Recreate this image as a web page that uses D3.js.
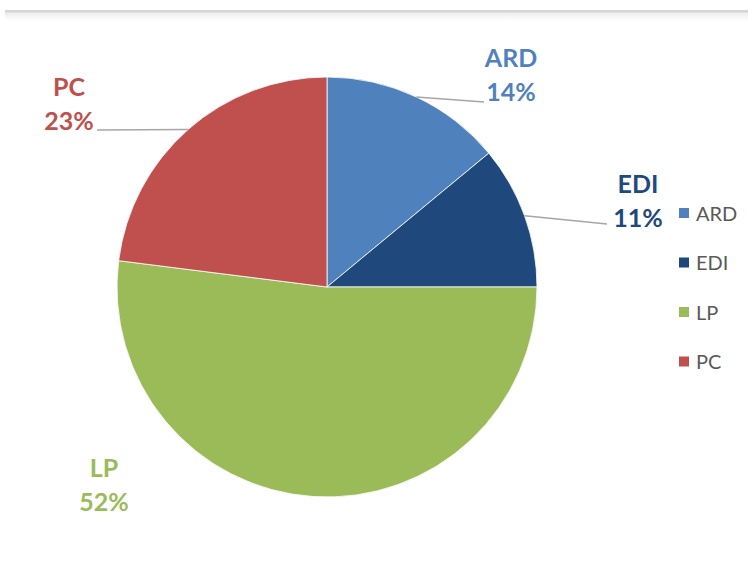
<!DOCTYPE html>
<html>
<head>
<meta charset="utf-8">
<script src="https://cdn.jsdelivr.net/npm/d3@7"></script>
<style>
  html, body { margin: 0; padding: 0; background: #ffffff; }
  svg { display: block; }
</style>
</head>
<body>
<svg id="chart" width="748" height="561"></svg>
<script>
// Share of each unit, in percent
const categories = ["ARD", "EDI", "LP", "PC"];
const values = [14, 11, 52, 23];
const colors = ["#4f81bd", "#1f497d", "#9bbb59", "#c0504d"];

const width = 748, height = 561;
const cx = 327, cy = 287, radius = 210;

const svg = d3.select("#chart");

// thin rule with soft shading along the top edge
const defs = svg.append("defs");
const grad = defs.append("linearGradient").attr("id", "topShade")
  .attr("x1", 0).attr("x2", 0).attr("y1", 0).attr("y2", 1);
grad.append("stop").attr("offset", 0).attr("stop-color", "#ececec");
grad.append("stop").attr("offset", 1).attr("stop-color", "#ffffff");
svg.append("rect").attr("x", 5).attr("y", 12).attr("width", width - 5).attr("height", 9)
  .attr("fill", "url(#topShade)");
svg.append("rect").attr("x", 5).attr("y", 10).attr("width", width - 5).attr("height", 2.5)
  .attr("fill", "#d6d6d6");

const color = d3.scaleOrdinal().domain(categories).range(colors);

const pie = d3.pie().sort(null).value(d => d.value);
const data = categories.map((c, i) => ({ name: c, value: values[i] }));
const arcs = pie(data);

const arc = d3.arc().innerRadius(0).outerRadius(radius);

const g = svg.append("g").attr("transform", `translate(${cx},${cy})`);

g.selectAll("path.slice")
  .data(arcs)
  .enter().append("path")
  .attr("class", "slice")
  .attr("d", arc)
  .attr("fill", d => color(d.data.name))
  .attr("stroke", "#ffffff")
  .attr("stroke-width", 0.8);

// data labels: position of the label block and the end of the leader line
const labelPos = {
  ARD: { x: 511, y: 67, lineEnd: [484, 102] },
  EDI: { x: 638, y: 193, lineEnd: [607, 224] },
  LP:  { x: 104, y: 477, lineEnd: null },
  PC:  { x: 69,  y: 96,  lineEnd: [97, 130] }
};

const edge = d3.arc().innerRadius(radius).outerRadius(radius);

arcs.forEach(d => {
  const p = labelPos[d.data.name];
  if (p.lineEnd) {
    const [ex, ey] = edge.centroid(d);
    svg.append("polyline")
      .attr("points", `${cx + ex},${cy + ey} ${p.lineEnd[0]},${p.lineEnd[1]}`)
      .attr("fill", "none")
      .attr("stroke", "#a6a6a6")
      .attr("stroke-width", 1.5);
  }
  const t = svg.append("text")
    .attr("x", p.x).attr("y", p.y)
    .attr("text-anchor", "middle")
    .attr("font-family", "Lato, 'Open Sans', sans-serif")
    .attr("font-weight", "bold")
    .attr("font-size", 25)
    .attr("fill", color(d.data.name));
  t.append("tspan").attr("x", p.x).text(d.data.name);
  t.append("tspan").attr("x", p.x).attr("dy", 34).text(d.data.value + "%");
});

// legend
const legend = svg.append("g").attr("transform", "translate(679,208)");
const items = legend.selectAll("g.item")
  .data(categories)
  .enter().append("g")
  .attr("class", "item")
  .attr("transform", (d, i) => `translate(0,${i * 49.5})`);
items.append("rect")
  .attr("width", 10).attr("height", 10)
  .attr("fill", d => color(d));
items.append("text")
  .attr("x", 17).attr("y", 12.5)
  .attr("font-family", "Lato, 'Open Sans', sans-serif")
  .attr("font-size", 20)
  .attr("fill", "#595959")
  .text(d => d);
</script>
</body>
</html>
